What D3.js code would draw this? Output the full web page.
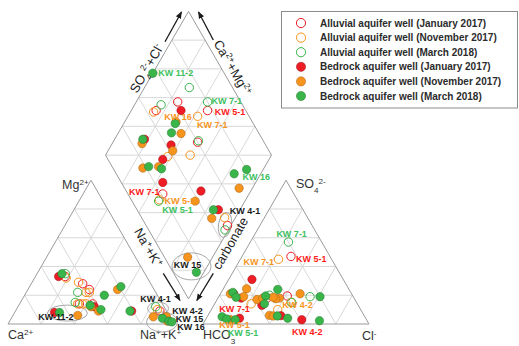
<!DOCTYPE html>
<html>
<head>
<meta charset="utf-8">
<script src="https://cdn.jsdelivr.net/npm/d3@7"></script>
<style>
    body { margin: 0; background: #fff; }
    svg { display: block; font-family: "Liberation Sans", Arial, sans-serif; }
</style>
</head>
<body>
<div id="piper"></div>
<script>

// series (order = drawing order)
var seriesKeys = ["aJan", "aNov", "aMar", "bJan", "bNov", "bMar"];
var seriesLabels = [
    "Alluvial aquifer well (January 2017)",
    "Alluvial aquifer well (November 2017)",
    "Alluvial aquifer well (March 2018)",
    "Bedrock aquifer well (January 2017)",
    "Bedrock aquifer well (November 2017)",
    "Bedrock aquifer well (March 2018)"
];

// cation triangle: [series, Mg %, Na+K %]  (Ca = rest)
var cationPoints = [
    ["aJan", 33, 18], ["aNov", 32, 19], ["aMar", 35, 17],
    ["aNov", 29, 28], ["aJan", 28, 31], ["aMar", 22, 31],
    ["aJan", 24, 37], ["aNov", 22, 36], ["aNov", 22, 38],
    ["aMar", 15, 33], ["aNov", 14, 35], ["aJan", 14, 36], ["aNov", 14, 38], ["aNov", 14, 40], ["aJan", 14, 44],
    ["aMar", 12, 83], ["aNov", 10, 85], ["aJan", 9, 87],
    ["bJan", 33, 14], ["bJan", 8, 24], ["bJan", 12, 46], ["bJan", 9, 70],
    ["bNov", 24, 54], ["bNov", 12, 44], ["bNov", 9, 50], ["bNov", 6, 39], ["bNov", 5, 85], ["bNov", 5, 93], ["bNov", 2, 95],
    ["bMar", 35, 15], ["bMar", 26, 55], ["bMar", 20, 48], ["bMar", 13, 43], ["bMar", 10, 51], ["bMar", 9, 69],
    ["bMar", 8, 27], ["bMar", 4, 91], ["bMar", 2, 96], ["bMar", 1.5, 98]
];

// anion triangle: [series, SO4 %, Cl %]  (HCO3 = rest)
var anionPoints = [
    ["aJan", 47, 29.5], ["aJan", 19.5, 41], ["aJan", 18, 29.5],
    ["aNov", 45, 23], ["aNov", 15, 45.5], ["aNov", 10, 40], ["aNov", 14, 22],
    ["aMar", 57, 23], ["aMar", 19, 55], ["aMar", 15, 46], ["aMar", 20, 30],
    ["bJan", 31, 14], ["bJan", 21, 8], ["bJan", 18, 14], ["bJan", 5.8, 44], ["bJan", 3, 58], ["bJan", 13, 29], ["bJan", 4, 20],
    ["bNov", 21, 48], ["bNov", 18, 37], ["bNov", 17.6, 35], ["bNov", 6, 37], ["bNov", 5.6, 39.5], ["bNov", 21, 6],
    ["bNov", 24.5, 14], ["bNov", 19, 15], ["bNov", 17, 24], ["bNov", 18, 27], ["bNov", 18.6, 33], ["bNov", 3, 15],
    ["bMar", 24, 33], ["bMar", 19, 61], ["bMar", 19.5, 28], ["bMar", 5.6, 42], ["bMar", 4, 49], ["bMar", 2.3, 69],
    ["bMar", 22, 7], ["bMar", 18.6, 10.6], ["bMar", 14, 30], ["bMar", 5, 9], ["bMar", 3.5, 12.6], ["bMar", 3, 18]
];

// diamond: [series, Na+K %, SO4+Cl %]
var diamondPoints = [
    ["aJan", 15, 46], ["aJan", 25, 62], ["aJan", 46, 77], ["aJan", 51, 60], ["aJan", 48, 21], ["aJan", 98, 49],
    ["aNov", 14, 44], ["aNov", 42, 69], ["aNov", 51, 51], ["aNov", 38, 37], ["aNov", 48, 17], ["aNov", 93.5, 50],
    ["aMar", 27, 74], ["aMar", 16, 51], ["aMar", 43, 80], ["aMar", 51, 61], ["aMar", 48, 16], ["aMar", 98, 46],
    ["bJan", 30, 61], ["bJan", 18, 29], ["bJan", 36, 43], ["bJan", 36, 33], ["bJan", 44, 25], ["bJan", 70, 45], ["bJan", 87, 49],
    ["bNov", 31, 54], ["bNov", 38, 53], ["bNov", 18, 26], ["bNov", 39, 42], ["bNov", 27, 18], ["bNov", 36, 28],
    ["bNov", 92, 69], ["bNov", 70, 38], ["bNov", 86, 42], ["bNov", 85, 14],
    ["bMar", 0, 57], ["bMar", 31, 53], ["bMar", 32, 47.5], ["bMar", 17, 28], ["bMar", 30, 22], ["bMar", 38.5, 29],
    ["bMar", 84, 71], ["bMar", 90, 80], ["bMar", 84, 46], ["bMar", 95.5, 14]
];

// well name labels: [plot, coord 1, coord 2, text, colour group]
var wellLabels = [
    ["diamond", 13.8, 70.8, "KW 11-2", "Mar"],
    ["diamond", 54.1, 91.9, "KW 7-1", "Mar"],
    ["diamond", 59.9, 90.1, "KW 5-1", "Jan"],
    ["diamond", 30.3, 57, "KW 16", "Nov"],
    ["diamond", 53.6, 75, "KW 7-1", "Nov"],
    ["diamond", 98.4, 83.2, "KW 16", "Mar"],
    ["diamond", 36, 10.7, "KW 7-1", "Jan"],
    ["diamond", 60.6, 28.8, "KW 5-1", "Nov"],
    ["diamond", 62.5, 24.4, "KW 5-1", "Mar"],
    ["diamond", 103.3, 64.8, "KW 4-1", "black"],
    ["diamond", 87.6, 11.2, "KW 15", "black"],
    ["cation", 5.2, 26.3, "KW-11-2", "black"],
    ["cation", 17.4, 80.2, "KW 4-1", "black"],
    ["cation", 9, 103.6, "KW 4-2", "black"],
    ["cation", 3.5, 107.6, "KW 15", "black"],
    ["cation", -2.1, 111.3, "KW 16", "black"],
    ["anion", 62.6, 22.1, "KW 7-1", "Mar"],
    ["anion", 45, 42.7, "KW 5-1", "Jan"],
    ["anion", 43.1, 12, "KW 7-1", "Nov"],
    ["anion", 13.2, 50.3, "KW 4-2", "Nov"],
    ["anion", -5.4, 65.5, "KW 4-2", "Jan"],
    ["anion", 10.2, 13.9, "KW 7-1", "Jan"],
    ["anion", -0.8, 19.4, "KW 5-1", "Nov"],
    ["anion", -5.9, 27, "KW 5-1", "Mar"]
];

// grouping ellipses: [plot, coord 1, coord 2, rx, ry, rotation]
var groupRings = [
    ["diamond", 96.3, 47.7, 6.5, 12.5, 10],
    ["diamond", 90.5, 13.1, 19.5, 13.5, 0],
    ["cation", 7.6, 32, 20, 8, 0],
    ["cation", 10.8, 85, 10.5, 6.5, 0],
    ["cation", 1.4, 92.1, 15.5, 10, 0]
];


/*
 * PiperVis - Object constructor function
 */

PiperVis = function(_parentElement) {
    this.parentElement = _parentElement;
    this.initVis();
};


/*
 * Initialize visualization (frame, grids, axis labels, legend)
 */

PiperVis.prototype.initVis = function() {
    var vis = this;

    vis.width = 519;
    vis.height = 346;

    vis.svg = d3.select("#" + vis.parentElement).append("svg")
        .attr("width", vis.width)
        .attr("height", vis.height);

    vis.colors = { Jan: "#ee1c24", Nov: "#f7941d", Mar: "#39b54a", black: "#1a1a1a" };
    vis.textColors = { Jan: "#ff1a1a", Nov: "#f7941d", Mar: "#3cc160", black: "#1a1a1a" };

    // geometry
    var side = 166, h = side * Math.sqrt(3) / 2, baseY = 324, gap = 29;
    vis.cat = { A: [8, baseY], C: [8 + side, baseY], T: [8 + side / 2, baseY - h] };
    var ax = 8 + side + gap;
    vis.an = { A: [ax, baseY], C: [ax + side, baseY], T: [ax + side / 2, baseY - h] };
    var bx = 8 + side + gap / 2, by = baseY - gap * Math.sqrt(3) / 2;
    vis.dia = { B: [bx, by], L: [bx - side / 2, by - h], R: [bx + side / 2, by - h], T: [bx, by - 2 * h] };

    // percentage -> fraction scale
    vis.frac = d3.scaleLinear().domain([0, 100]).range([0, 1]);

    var line = d3.line();

    // grids
    var grid = vis.svg.append("g").attr("class", "grid");
    function lerp(p, q, t) { return [p[0] + (q[0] - p[0]) * t, p[1] + (q[1] - p[1]) * t]; }
    function triGrid(A, C, T) {
        d3.range(1, 5).forEach(function(i) {
            var t = i / 5;
            [[lerp(A, T, t), lerp(C, T, t)],
             [lerp(A, C, t), lerp(T, C, t)],
             [lerp(A, C, t), lerp(A, T, t)]].forEach(function(seg) {
                grid.append("path").attr("d", line(seg))
                    .attr("stroke", "#d4d4d4").attr("stroke-width", 0.9).attr("fill", "none");
            });
        });
    }
    triGrid(vis.cat.A, vis.cat.C, vis.cat.T);
    triGrid(vis.an.A, vis.an.C, vis.an.T);
    triGrid(vis.dia.L, vis.dia.R, vis.dia.T);
    triGrid(vis.dia.L, vis.dia.R, vis.dia.B);
    grid.append("path").attr("d", line([vis.dia.L, vis.dia.R]))
        .attr("stroke", "#d4d4d4").attr("stroke-width", 0.9);

    // outlines
    var frames = [[vis.cat.A, vis.cat.C, vis.cat.T], [vis.an.A, vis.an.C, vis.an.T],
                  [vis.dia.B, vis.dia.R, vis.dia.T, vis.dia.L]];
    vis.svg.append("g").selectAll("path").data(frames).enter().append("path")
        .attr("d", function(d) { return line(d) + "Z"; })
        .attr("fill", "none").attr("stroke", "#9a9a9a").attr("stroke-width", 1);

    // arrows
    var defs = vis.svg.append("defs");
    defs.append("marker").attr("id", "arr")
        .attr("viewBox", "0 0 10 10").attr("refX", 9).attr("refY", 5)
        .attr("markerWidth", 5.5).attr("markerHeight", 5.5).attr("orient", "auto")
        .append("path").attr("d", "M0,1L10,5L0,9Z").attr("fill", "#1a1a1a");
    var arrows = [[[165, 41.7], [181.5, 12]], [[213.3, 40], [198.5, 12]],
                  [[163.3, 273.3], [180, 300.5]], [[213.3, 273.3], [196.8, 300.5]]];
    vis.svg.append("g").selectAll("path").data(arrows).enter().append("path")
        .attr("d", function(d) { return line(d); })
        .attr("stroke", "#1a1a1a").attr("stroke-width", 1.3)
        .attr("marker-end", "url(#arr)");

    // axis titles
    vis.richText(vis.svg, 146.5, 68.5, -60, 13,
        [["SO"], ["4", "sub"], ["2-", "sup"], ["+Cl"], ["-", "sup"]]);
    vis.richText(vis.svg, 232.5, 67.5, 60, 13,
        [["Ca"], ["2+", "sup"], ["+Mg"], ["2+", "sup"]]);
    vis.richText(vis.svg, 148.3, 247.5, 60, 13,
        [["Na"], ["+", "sup"], ["+K"], ["+", "sup"]]);
    vis.richText(vis.svg, 230.3, 243.3, -60, 13, [["carbonate"]]);

    // corner labels
    var corner = function(x, y, parts) {
        var t = vis.svg.append("text").attr("x", x).attr("y", y)
            .attr("font-size", 12.5).attr("fill", "#333");
        vis.addParts(t, parts);
    };
    corner(62, 189, [["Mg"], ["2+", "sup"]]);
    corner(8, 338.5, [["Ca"], ["2+", "sup"]]);
    corner(140, 338.5, [["Na"], ["+", "sup"], ["+K"], ["+", "sup"]]);
    corner(203, 338.5, [["HCO"], ["3", "sub"], ["-", "sup"]]);
    corner(362, 339.5, [["Cl"], ["-", "sup"]]);
    corner(296, 187.5, [["SO"], ["4", "sub"], ["2-", "sup"]]);

    // legend
    var legend = vis.svg.append("g").attr("class", "legend");
    legend.append("rect").attr("x", 281.5).attr("y", 11.5).attr("width", 236).attr("height", 96.5)
        .attr("fill", "#fff").attr("stroke", "#8c8c8c").attr("stroke-width", 1);
    var rows = legend.selectAll("g.row").data(seriesKeys).enter().append("g")
        .attr("class", "row")
        .attr("transform", function(d, i) { return "translate(301," + (23 + i * 14.6) + ")"; });
    rows.append("circle").attr("r", 4.6)
        .each(function(d) { vis.styleMarker(d3.select(this), d); });
    rows.append("text").attr("x", 19).attr("dy", "0.35em")
        .attr("font-size", 10).attr("font-weight", "bold").attr("fill", "#2b2b2b")
        .text(function(d, i) { return seriesLabels[i]; });

    vis.updateVis();
};


/*
 * Ternary / diamond projections
 */

PiperVis.prototype.project = function(plot, a, b) {
    var vis = this, f = vis.frac, g;
    if (plot === "diamond") {
        g = vis.dia;
        var p = f(100 - a), q = f(b);
        return [g.B[0] + p * (g.L[0] - g.B[0]) + q * (g.R[0] - g.B[0]),
                g.B[1] + p * (g.L[1] - g.B[1]) + q * (g.R[1] - g.B[1])];
    }
    g = plot === "cation" ? vis.cat : vis.an;
    // a = top corner share, b = right corner share
    return [g.A[0] + f(b) * (g.C[0] - g.A[0]) + f(a) * (g.T[0] - g.A[0]),
            g.A[1] + f(b) * (g.C[1] - g.A[1]) + f(a) * (g.T[1] - g.A[1])];
};

PiperVis.prototype.styleMarker = function(sel, key) {
    var vis = this;
    var c = vis.colors[key.slice(1)];
    if (key[0] === "a") {
        sel.attr("fill", "#fff").attr("fill-opacity", 0).attr("stroke", c).attr("stroke-width", 1);
    } else {
        sel.attr("fill", c).attr("stroke", d3.color(c).darker(1.2)).attr("stroke-width", 0.5);
    }
};

PiperVis.prototype.addParts = function(t, parts) {
    parts.forEach(function(p) {
        var ts = t.append("tspan").text(p[0]);
        if (p[1] === "sup") ts.attr("font-size", "65%").attr("baseline-shift", "super");
        if (p[1] === "sub") ts.attr("font-size", "65%").attr("baseline-shift", "sub");
    });
};

PiperVis.prototype.richText = function(parent, x, y, rot, size, parts) {
    var t = parent.append("text")
        .attr("transform", "translate(" + x + "," + y + ") rotate(" + rot + ")")
        .attr("text-anchor", "middle").attr("dy", "0.35em")
        .attr("font-size", size).attr("fill", "#222");
    this.addParts(t, parts);
};


/*
 * The drawing function
 */

PiperVis.prototype.updateVis = function() {
    var vis = this;

    // grouping rings
    vis.svg.append("g").selectAll("ellipse").data(groupRings).enter().append("ellipse")
        .attr("transform", function(d) {
            var p = vis.project(d[0], d[1], d[2]);
            return "translate(" + p[0] + "," + p[1] + ") rotate(" + d[5] + ")";
        })
        .attr("rx", function(d) { return d[3]; })
        .attr("ry", function(d) { return d[4]; })
        .attr("fill", "none").attr("stroke", "#a8a8a8").attr("stroke-width", 1);

    // points, one layer per series
    var all = [];
    [["cation", cationPoints], ["anion", anionPoints], ["diamond", diamondPoints]].forEach(function(set) {
        set[1].forEach(function(d) { all.push({ plot: set[0], key: d[0], a: d[1], b: d[2] }); });
    });

    seriesKeys.forEach(function(key) {
        vis.svg.append("g").attr("class", "series-" + key)
            .selectAll("circle")
            .data(all.filter(function(d) { return d.key === key; }))
            .enter().append("circle")
            .attr("cx", function(d) { return vis.project(d.plot, d.a, d.b)[0]; })
            .attr("cy", function(d) { return vis.project(d.plot, d.a, d.b)[1]; })
            .attr("r", 4.2)
            .each(function() { vis.styleMarker(d3.select(this), key); });
    });

    // well labels
    vis.svg.append("g").selectAll("text").data(wellLabels).enter().append("text")
        .attr("x", function(d) { return vis.project(d[0], d[1], d[2])[0]; })
        .attr("y", function(d) { return vis.project(d[0], d[1], d[2])[1]; })
        .attr("dy", "0.35em")
        .attr("text-anchor", "middle")
        .attr("font-size", 9).attr("font-weight", "bold")
        .attr("fill", function(d) { return vis.textColors[d[4]]; })
        .text(function(d) { return d[3]; });
};


var piper = new PiperVis("piper");

</script>
</body>
</html>
